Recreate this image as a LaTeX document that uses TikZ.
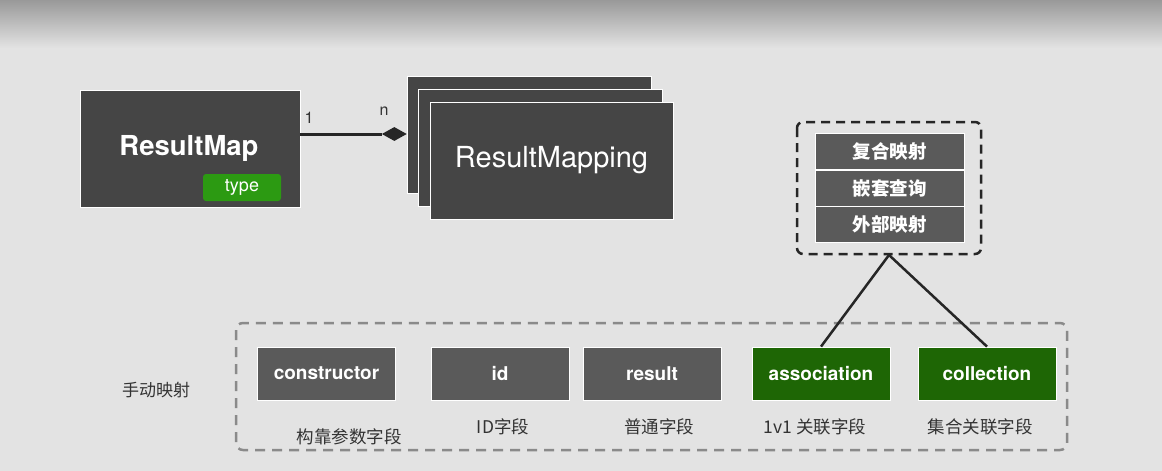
\documentclass[tikz,border=0pt]{standalone}
\usepackage{fontspec}
\setmainfont{TeX Gyre Heros}
\newfontfamily\cjk{Noto Sans CJK SC}
\usetikzlibrary{shapes.geometric}
\definecolor{bg}{HTML}{E3E3E3}
\definecolor{bgtop}{HTML}{999999}
\definecolor{darkbox}{HTML}{454545}
\definecolor{midbox}{HTML}{5A5A5A}
\definecolor{greenbox}{HTML}{1E6605}
\definecolor{badge}{HTML}{2C9A12}
\definecolor{dashgray}{HTML}{8A8A8A}
\definecolor{labelc}{HTML}{333333}
\tikzset{
  bigbox/.style={draw=white, line width=0.8pt, fill=darkbox, text=white, inner sep=0pt},
  fieldbox/.style={draw=white, line width=0.8pt, fill=midbox, text=white, minimum width=138pt, minimum height=53pt, inner sep=0pt, font=\bfseries\fontsize{19}{21}\selectfont},
  greenfield/.style={fieldbox, fill=greenbox},
  mapbox/.style={draw=white, line width=0.8pt, fill=midbox, text=white, minimum width=149pt, minimum height=36pt, inner sep=0pt, font=\cjk\bfseries\fontsize{18.5}{20}\selectfont},
  sublabel/.style={text=labelc, font=\cjk\fontsize{17.5}{19}\selectfont, inner sep=0pt},
  conn/.style={draw=black!85, line width=2.5pt},
}
\begin{document}
\begin{tikzpicture}[x=1pt,y=-1pt]
\useasboundingbox (0,0) rectangle (1162,471);
\fill[bg] (0,0) rectangle (1162,471);
\shade[top color=bgtop, bottom color=bg] (0,0) rectangle (1162,48);

% ResultMap
\node[bigbox, minimum width=220pt, minimum height=117pt] (rm) at (190,148.5) {};
\node[text=white, font=\bfseries\fontsize{27.5}{30}\selectfont] (rmt) at (189,148) {ResultMap};
\node[fill=badge, rounded corners=3pt, minimum width=78pt, minimum height=27pt, inner sep=0pt, text=white, font=\fontsize{18}{20}\selectfont] (type) at (242,187.5) {type};

% ResultMapping stack
\node[bigbox, minimum width=244pt, minimum height=117pt] (m3) at (529,134.5) {};
\node[bigbox, minimum width=244pt, minimum height=117pt] (m2) at (540,147.5) {};
\node[bigbox, minimum width=243pt, minimum height=117pt, font=\fontsize{29}{31}\selectfont] (m1) at (551.5,160.5) {ResultMapping};

% composition connector
\coordinate (dtip) at (407,134);
\node[diamond, fill=black!85, inner sep=0pt, minimum width=25pt, minimum height=14pt, anchor=east] (dia) at (dtip) {};
\draw[line width=3pt, black!85] (rm.east |- dia.west) -- (dia.west);
\node[font=\fontsize{16}{18}\selectfont, text=black!80] (one) at (309,118) {1};
\node[font=\fontsize{16}{18}\selectfont, text=black!80] (n) at (384,111) {n};

% mapping group
\draw[black!85, line width=2.5pt, dash pattern=on 9pt off 6pt, rounded corners=6pt] (797,122) rectangle (981,254);
\coordinate (apex) at (889,255);
\node[mapbox] (fh) at (889.5,151) {复合映射};
\node[mapbox] (qt) at (889.5,188) {嵌套查询};
\node[mapbox] (wb) at (889.5,224.5) {外部映射};

% manual mapping group
\draw[dashgray, line width=2.5pt, dash pattern=on 10pt off 7pt, rounded corners=7pt] (236,323) rectangle (1067,450);
\node[text=labelc, font=\cjk\fontsize{17}{19}\selectfont] (sd) at (156,390) {手动映射};

\node[fieldbox] (ctor) at (326.5,373.5) {constructor};
\node[fieldbox] (id) at (500,373.5) {id};
\node[fieldbox] (res) at (652,373.5) {result};
\node[greenfield] (assoc) at (821,373.5) {association};
\node[greenfield] (coll) at (987,373.5) {collection};

\node[sublabel] (l1) at (349,437) {构靠参数字段};
\node[sublabel] (l2) at (503,427) {ID字段};
\node[sublabel] (l3) at (659,427) {普通字段};
\node[sublabel] (l4) at (815,427) {1v1 关联字段};
\node[sublabel] (l5) at (980,427) {集合关联字段};

\draw[conn] (apex) -- (assoc.north);
\draw[conn] (apex) -- (coll.north);
\end{tikzpicture}
\end{document}
